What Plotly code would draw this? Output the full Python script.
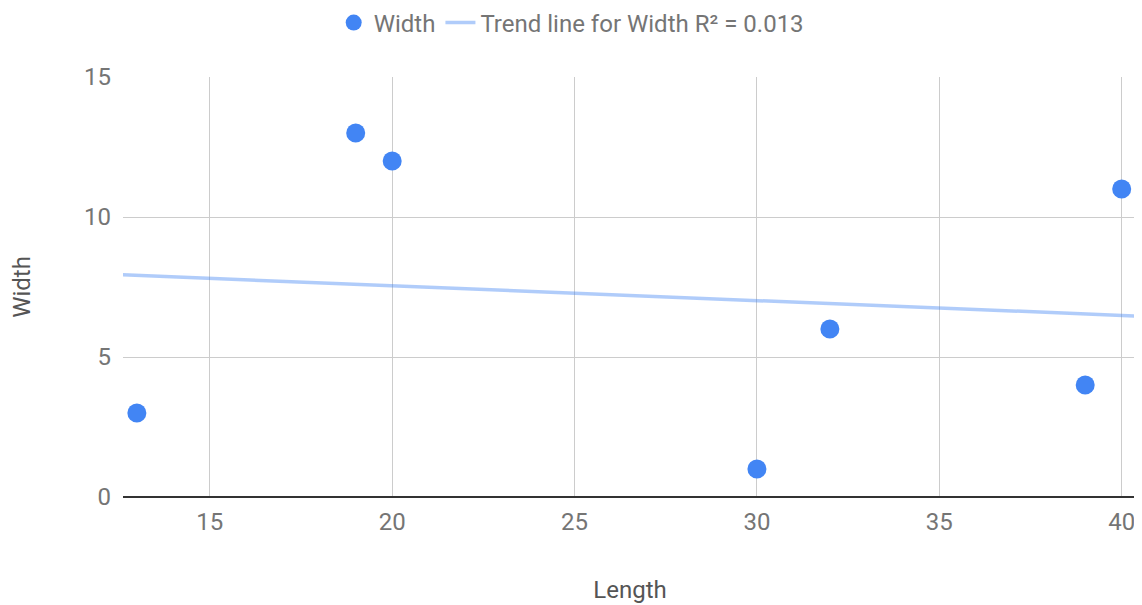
import numpy as np
import plotly.graph_objects as go

length = [13, 19, 20, 30, 32, 39, 40]
width = [3, 13, 12, 1, 6, 4, 11]
x_ticks = [15, 20, 25, 30, 35, 40]
y_ticks = [0, 5, 10, 15]

x_range = [12.62, 40.42]
y_range = [0, 15]

slope, intercept = np.polyfit(length, width, 1)
pred = np.polyval([slope, intercept], length)
ss_res = np.sum((np.array(width) - pred) ** 2)
ss_tot = np.sum((np.array(width) - np.mean(width)) ** 2)
r2 = 1 - ss_res / ss_tot
trend_x = np.array(x_range)
trend_y = slope * trend_x + intercept

fig = go.Figure()
fig.add_trace(go.Scatter(
    x=trend_x, y=trend_y, mode="lines",
    name=f"Trend line for Width R² = {r2:.3f}",
    line=dict(color="rgba(66,133,244,0.42)", width=3.5),
))
fig.add_trace(go.Scatter(
    x=length, y=width, mode="markers", name="Width",
    marker=dict(color="#4285F4", size=19, line=dict(width=0)),
))

# page body has an 8px margin, so the figure is placed at (8, 8)
fig.update_layout(
    width=1134, height=597,
    margin=dict(l=115, r=5, t=69, b=108, autoexpand=False),
    paper_bgcolor="white", plot_bgcolor="white",
    font=dict(family="Roboto", size=24, color="#757575"),
    legend=dict(orientation="h", xref="paper", yref="paper",
                x=0.442, xanchor="center", y=1.1286, yanchor="middle",
                traceorder="reversed",
                font=dict(size=24, color="#757575"), itemwidth=30),
    showlegend=True,
    xaxis=dict(range=x_range, tickvals=x_ticks, showgrid=True,
               gridcolor="#cccccc", gridwidth=1, zeroline=False,
               showline=False, ticks="", tickfont=dict(size=24), automargin=False,
               ticklabelstandoff=8,
               title=dict(text="Length", font=dict(size=24, color="#555555"), standoff=46)),
    yaxis=dict(range=y_range, tickvals=y_ticks, showgrid=True,
               gridcolor="#cccccc", gridwidth=1, zeroline=True,
               zerolinecolor="#333333", zerolinewidth=1.5, automargin=False,
               showline=False, ticks="", ticklabelstandoff=11, tickfont=dict(size=24),
               title=dict(text="Width", font=dict(size=24, color="#555555"), standoff=47)),
)

fig.write_html("out.html")
